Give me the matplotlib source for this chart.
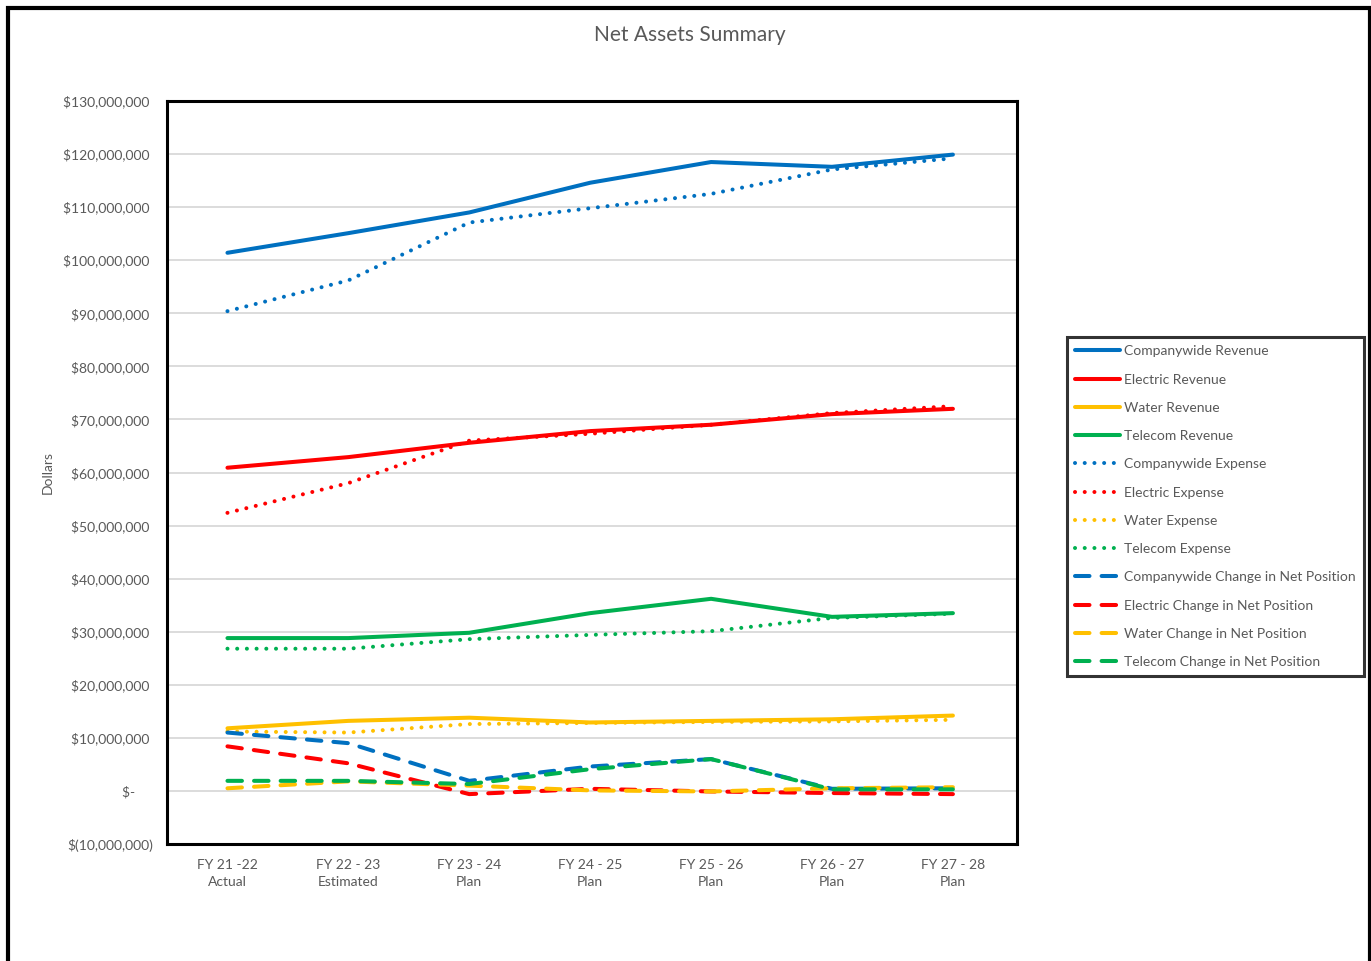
import matplotlib
matplotlib.use("Agg")
import matplotlib.pyplot as plt
from matplotlib.patches import Rectangle
from matplotlib.ticker import FuncFormatter, MultipleLocator

plt.rcParams['font.family'] = ['Lato', 'DejaVu Sans']

categories = ["FY 21 -22\nActual", "FY 22 - 23\nEstimated", "FY 23 - 24\nPlan",
              "FY 24 - 25\nPlan", "FY 25 - 26\nPlan", "FY 26 - 27\nPlan", "FY 27 - 28\nPlan"]

companywide_revenue = [101.4e6, 105.1e6, 109.0e6, 114.6e6, 118.5e6, 117.6e6, 119.9e6]
electric_revenue = [60.9e6, 62.9e6, 65.6e6, 67.8e6, 69.0e6, 71.0e6, 72.0e6]
water_revenue = [11.8e6, 13.2e6, 13.8e6, 12.9e6, 13.2e6, 13.5e6, 14.2e6]
telecom_revenue = [28.8e6, 28.8e6, 29.8e6, 33.5e6, 36.2e6, 32.8e6, 33.5e6]

companywide_expense = [90.4e6, 96.2e6, 107.1e6, 109.8e6, 112.5e6, 117.1e6, 119.2e6]
electric_expense = [52.4e6, 58.0e6, 66.0e6, 67.3e6, 69.0e6, 71.2e6, 72.5e6]
water_expense = [11.2e6, 11.0e6, 12.6e6, 12.8e6, 13.0e6, 13.1e6, 13.4e6]
telecom_expense = [26.8e6, 26.8e6, 28.6e6, 29.4e6, 30.1e6, 32.6e6, 33.4e6]

companywide_change = [11.0e6, 9.0e6, 1.9e6, 4.6e6, 6.0e6, 0.4e6, 0.5e6]
electric_change = [8.4e6, 5.2e6, -0.6e6, 0.4e6, -0.1e6, -0.4e6, -0.6e6]
water_change = [0.5e6, 1.8e6, 1.0e6, 0.1e6, -0.1e6, 0.5e6, 0.7e6]
telecom_change = [1.9e6, 1.9e6, 1.3e6, 4.1e6, 6.0e6, 0.3e6, 0.3e6]

BLUE = "#0070C0"
RED = "#FF0000"
YELLOW = "#FFC000"
GREEN = "#00B050"
TEXT = "#595959"

fig = plt.figure(figsize=(13.71, 9.61), dpi=100)
ax = fig.add_axes([167/1371, 1 - 844/961, 850/1371, 743/961])

x = list(range(len(categories)))
LW = 2.9

series = [
    ("Companywide Revenue", companywide_revenue, BLUE, "solid"),
    ("Electric Revenue", electric_revenue, RED, "solid"),
    ("Water Revenue", water_revenue, YELLOW, "solid"),
    ("Telecom Revenue", telecom_revenue, GREEN, "solid"),
    ("Companywide Expense", companywide_expense, BLUE, "dot"),
    ("Electric Expense", electric_expense, RED, "dot"),
    ("Water Expense", water_expense, YELLOW, "dot"),
    ("Telecom Expense", telecom_expense, GREEN, "dot"),
    ("Companywide Change in Net Position", companywide_change, BLUE, "dash"),
    ("Electric Change in Net Position", electric_change, RED, "dash"),
    ("Water Change in Net Position", water_change, YELLOW, "dash"),
    ("Telecom Change in Net Position", telecom_change, GREEN, "dash"),
]

handles = []
for name, vals, col, style in series:
    if style == "solid":
        ln, = ax.plot(x, vals, color=col, lw=LW, solid_capstyle="round",
                      solid_joinstyle="round", label=name)
    elif style == "dot":
        ln, = ax.plot(x, vals, color=col, lw=LW, dashes=(0.01, 2.4),
                      dash_capstyle="round", label=name)
    else:
        ln, = ax.plot(x, vals, color=col, lw=LW, dashes=(3.6, 3.0),
                      dash_capstyle="round", label=name)
    handles.append(ln)

ax.set_xlim(-0.5, len(categories) - 0.47)
ax.set_ylim(-10e6, 130e6)
ax.yaxis.set_major_locator(MultipleLocator(10e6))


def fmt(v, pos):
    v = round(v)
    if v == 0:
        return "$-     "
    if v < 0:
        return "$({:,.0f})".format(-v)
    return "${:,.0f} ".format(v)


ax.yaxis.set_major_formatter(FuncFormatter(fmt))
ax.set_xticks(x)
ax.set_xticklabels(categories, linespacing=1.45)
ax.tick_params(axis="both", length=0, labelsize=10, colors=TEXT)
ax.tick_params(axis="y", pad=10)
ax.tick_params(axis="x", pad=11)
ax.grid(axis="y", color="#D9D9D9", lw=1.3)
ax.set_axisbelow(True)
for s in ax.spines.values():
    s.set_color("black")
    s.set_linewidth(2.2)

ax.set_ylabel("Dollars", fontsize=10, color=TEXT)
ax.yaxis.set_label_coords((54 - 167) / 850, (844 - 473) / 743)

fig.text(690/1371, 1 - 35/961, "Net Assets Summary", ha="center", va="center",
         fontsize=15, color=TEXT)

leg = fig.legend(handles=handles, loc="upper left",
                 bbox_to_anchor=(1067/1371, 1 - 337/961),
                 fontsize=10, frameon=True, fancybox=False,
                 handlelength=3.2, handletextpad=0.3, labelspacing=1.17,
                 borderpad=0.6, borderaxespad=0)
for t in leg.get_texts():
    t.set_color(TEXT)
fr = leg.get_frame()
fr.set_edgecolor("black")
fr.set_linewidth(2.2)

border = Rectangle((8/1371, -0.05), (1369.5 - 8)/1371, 1.05 - 7.5/961,
                   transform=fig.transFigure, fill=False, edgecolor="black",
                   lw=3.0, clip_on=False)
fig.patches.append(border)

fig.savefig("out.png", dpi=100)
